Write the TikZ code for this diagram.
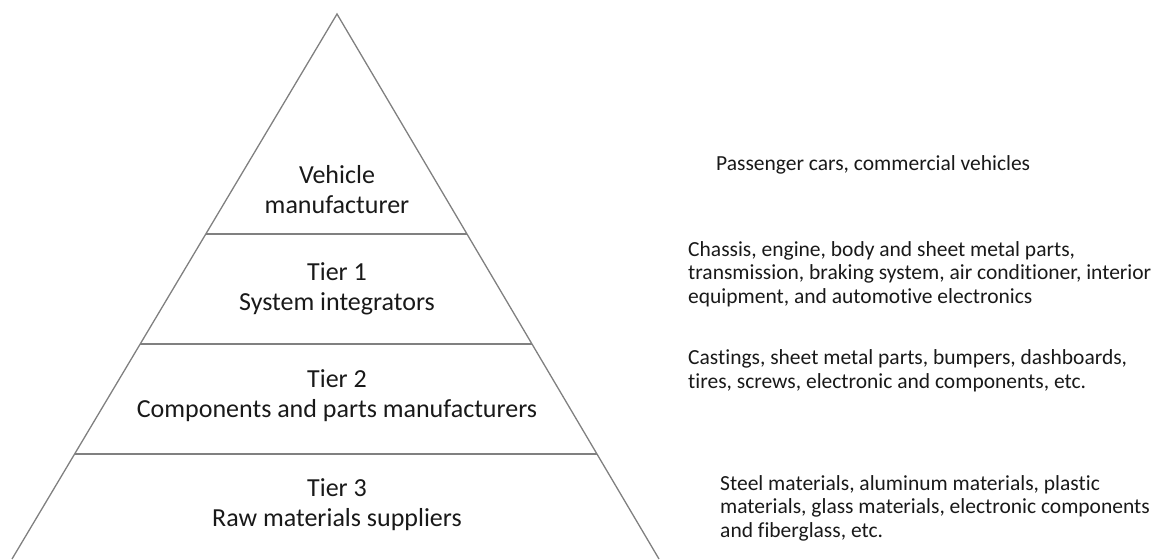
\documentclass[tikz,border=0pt]{standalone}
\usepackage{fontspec}
\setmainfont{Carlito}[Ligatures=NoCommon]
\usetikzlibrary{calc}
\begin{document}
\begin{tikzpicture}[x=1pt,y=-1pt,
  side/.style={draw=black!50, line width=1.3pt},
  tierlabel/.style={align=center, anchor=base, font=\fontsize{26}{29.5}\selectfont, inner sep=0pt, text=black!90},
  desc/.style={align=left, anchor=base west, font=\fontsize{21.5}{23.4}\selectfont, inner sep=0pt, text=black!90}]
\useasboundingbox (0,0) rectangle (1174,559);
\coordinate (A) at (337,14);
\coordinate (L) at (12,559);
\coordinate (R) at (659,559);
\draw[side] (L) -- (A) -- (R);
\foreach \t/\n in {0.4037/1,0.6055/2,0.8073/3}{
  \draw[side] ($(A)!\t!(L)$) coordinate (l\n) -- ($(A)!\t!(R)$) coordinate (r\n);
}
\node[tierlabel] (v) at (337,213) {Vehicle\\manufacturer};
\node[tierlabel] (t1) at (337,310) {Tier 1\\System integrators};
\node[tierlabel] (t2) at (337,417) {Tier 2\\Components and parts manufacturers};
\node[tierlabel] (t3) at (337,526) {Tier 3\\Raw materials suppliers};
\node[desc] (d0) at (716,170) {Passenger cars, commercial vehicles};
\node[desc] (d1) at (688,303) {Chassis, engine, body and sheet metal parts,\\transmission, braking system, air conditioner, interior\\equipment, and automotive electronics};
\node[desc] (d2) at (688,388) {Castings, sheet metal parts, bumpers, dashboards,\\tires, screws, electronic and components, etc.};
\node[desc] (d3) at (720,537) {Steel materials, aluminum materials, plastic\\materials, glass materials, electronic components\\and fiberglass, etc.};
\end{tikzpicture}
\end{document}
